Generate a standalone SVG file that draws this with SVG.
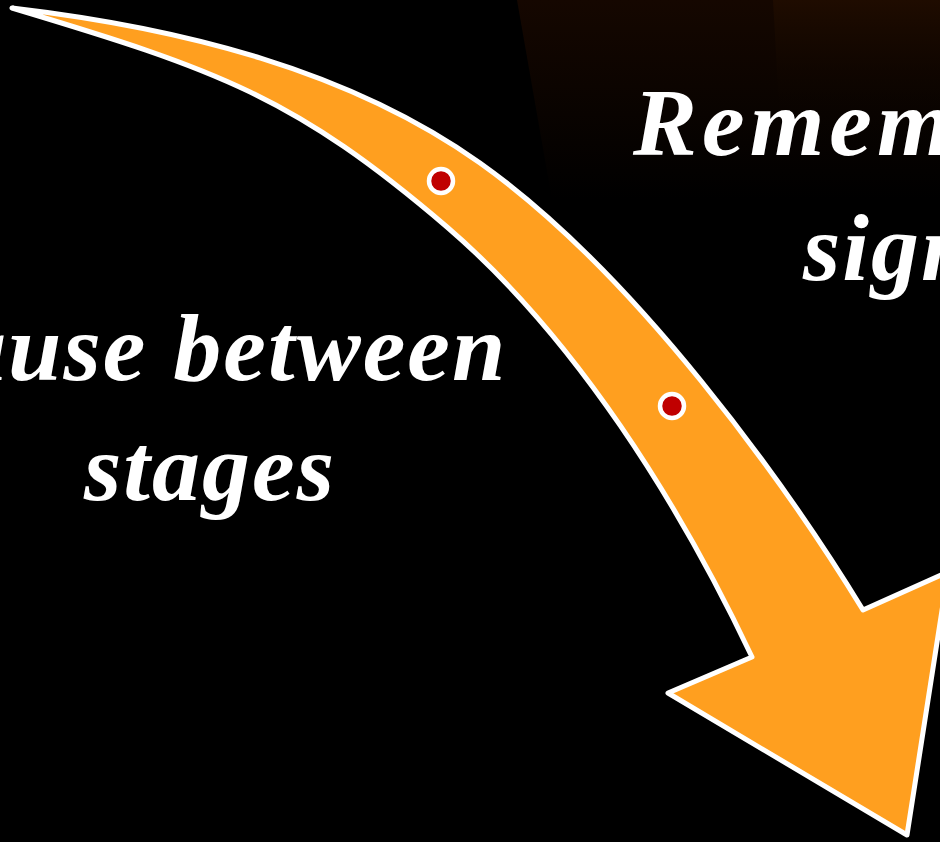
<svg xmlns="http://www.w3.org/2000/svg" width="940" height="842" viewBox="0 0 940 842">
  <defs>
    <linearGradient id="bgFade" x1="0" y1="0" x2="0" y2="1">
      <stop offset="0" stop-color="#150700"/>
      <stop offset="1" stop-color="#000000"/>
    </linearGradient>
    <linearGradient id="bgFade2" x1="0" y1="0" x2="0" y2="1">
      <stop offset="0" stop-color="#1f0c00"/>
      <stop offset="1" stop-color="#000000" stop-opacity="0"/>
    </linearGradient>
    <style>
      .lbl { font-family: "Liberation Serif", "DejaVu Serif", serif; font-style: italic; font-weight: bold; font-size: 96px; fill: #ffffff; }
      .arrow { fill: #ff9f1f; stroke: #ffffff; stroke-width: 5; stroke-linejoin: round; }
      .dot { fill: #c00000; stroke: #ffffff; stroke-width: 4.5; }
    </style>
  </defs>

  <rect x="0" y="0" width="940" height="842" fill="#000000"/>
  <polygon points="517,0 940,0 940,200 552,200" fill="url(#bgFade)"/>
  <polygon points="773,0 940,0 940,160 782,160" fill="url(#bgFade2)"/>

  <g id="connectors">
    <path id="arrow" class="arrow" d="M12,8 C182,28 349,70 480,163 C635,273 786,484 863,610 L948,572 L907,835 L668,693 L752,657 C679,503 576,338 447,227 C295,97 219,70 12,8 Z"/>
  </g>

  <g id="dot1">
    <circle class="dot" cx="441" cy="181" r="12"/>
  </g>
  <g id="dot2">
    <circle class="dot" cx="672" cy="406" r="12"/>
  </g>

  <g id="label-pause">
    <text class="lbl" x="-42" y="380" letter-spacing="2">ause between</text>
    <text class="lbl" x="210" y="500" text-anchor="middle" letter-spacing="2">stages</text>
  </g>

  <g id="label-remember">
    <text class="lbl" x="633" y="155" letter-spacing="5">Remem</text>
    <text class="lbl" x="803" y="280" letter-spacing="2">sign</text>
  </g>
</svg>
